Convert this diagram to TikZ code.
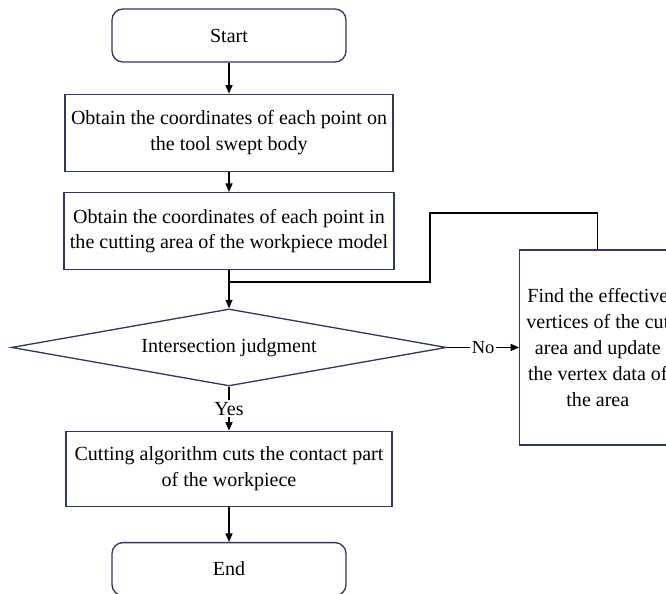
\documentclass[tikz,border=0pt]{standalone}
\usepackage{fontspec}
\setmainfont{Liberation Serif}
\usepackage{xcolor}
\usepackage{tikz}
\usetikzlibrary{arrows.meta,positioning,shapes.geometric}
\definecolor{boxline}{RGB}{47,56,96}
\tikzstyle{term}=[rectangle, rounded corners=0.22cm, draw=boxline, line width=0.75pt,
  minimum width=4.68cm, minimum height=1.06cm, align=center, font=\fontsize{11.4}{14.7}\selectfont]
\tikzstyle{proc}=[rectangle, draw=boxline, line width=0.75pt,
  minimum width=6.52cm, minimum height=1.54cm, align=center, font=\fontsize{11.4}{14.7}\selectfont]
\tikzstyle{dec}=[diamond, aspect=5.6, draw=boxline, line width=0.75pt, inner sep=1pt,
  minimum width=8.7cm, minimum height=1.54cm, align=center, font=\fontsize{11.4}{14.7}\selectfont]
\tikzstyle{arrow}=[-{Triangle[length=1.7mm,width=1.4mm]}, line width=0.75pt]
\tikzstyle{line}=[line width=0.75pt]

\begin{document}
\begin{tikzpicture}
\useasboundingbox (0,0) rectangle (13.32,-11.86);
\clip (0,0) rectangle (13.32,-11.86);
\node (start) [term] at (4.58,-0.71) {Start};
\node (obtA) [proc, below=0.62cm of start] {Obtain the coordinates of each point on\\the tool swept body};
\node (obtB) [proc, below=0.4cm of obtA] {Obtain the coordinates of each point in\\the cutting area of the workpiece model};
\node (dec) [dec, below=0.76cm of obtB] {Intersection judgment};
\node (cut) [proc, below=0.88cm of dec, minimum height=1.5cm] {Cutting algorithm cuts the contact part\\of the workpiece};
\node (end) [term, below=0.7cm of cut] {End};
\node (find) [proc, right=1.44cm of dec, minimum width=3.12cm, minimum height=3.9cm] {Find the effective\\vertices of the cut\\area and update\\the vertex data of\\the area};
\coordinate (loop) at (8.6,-4.26);
\coordinate (merge) at (4.58,-5.64);
\draw[arrow] (start)--(obtA);
\draw[arrow] (obtA)--(obtB);
\draw[arrow] (obtB)--(dec);
\draw[arrow] (dec)-- node[fill=white,inner sep=1pt,font=\fontsize{11.4}{14.7}\selectfont]{Yes} (cut);
\draw[arrow] (cut)--(end);
\draw[arrow] (dec.east)-- node[fill=white,inner sep=1pt,font=\fontsize{10.5}{13}\selectfont]{No} (dec.east -| find.west);
\draw[line] (find.north) |- (loop) |- (merge);
\end{tikzpicture}
\end{document}
